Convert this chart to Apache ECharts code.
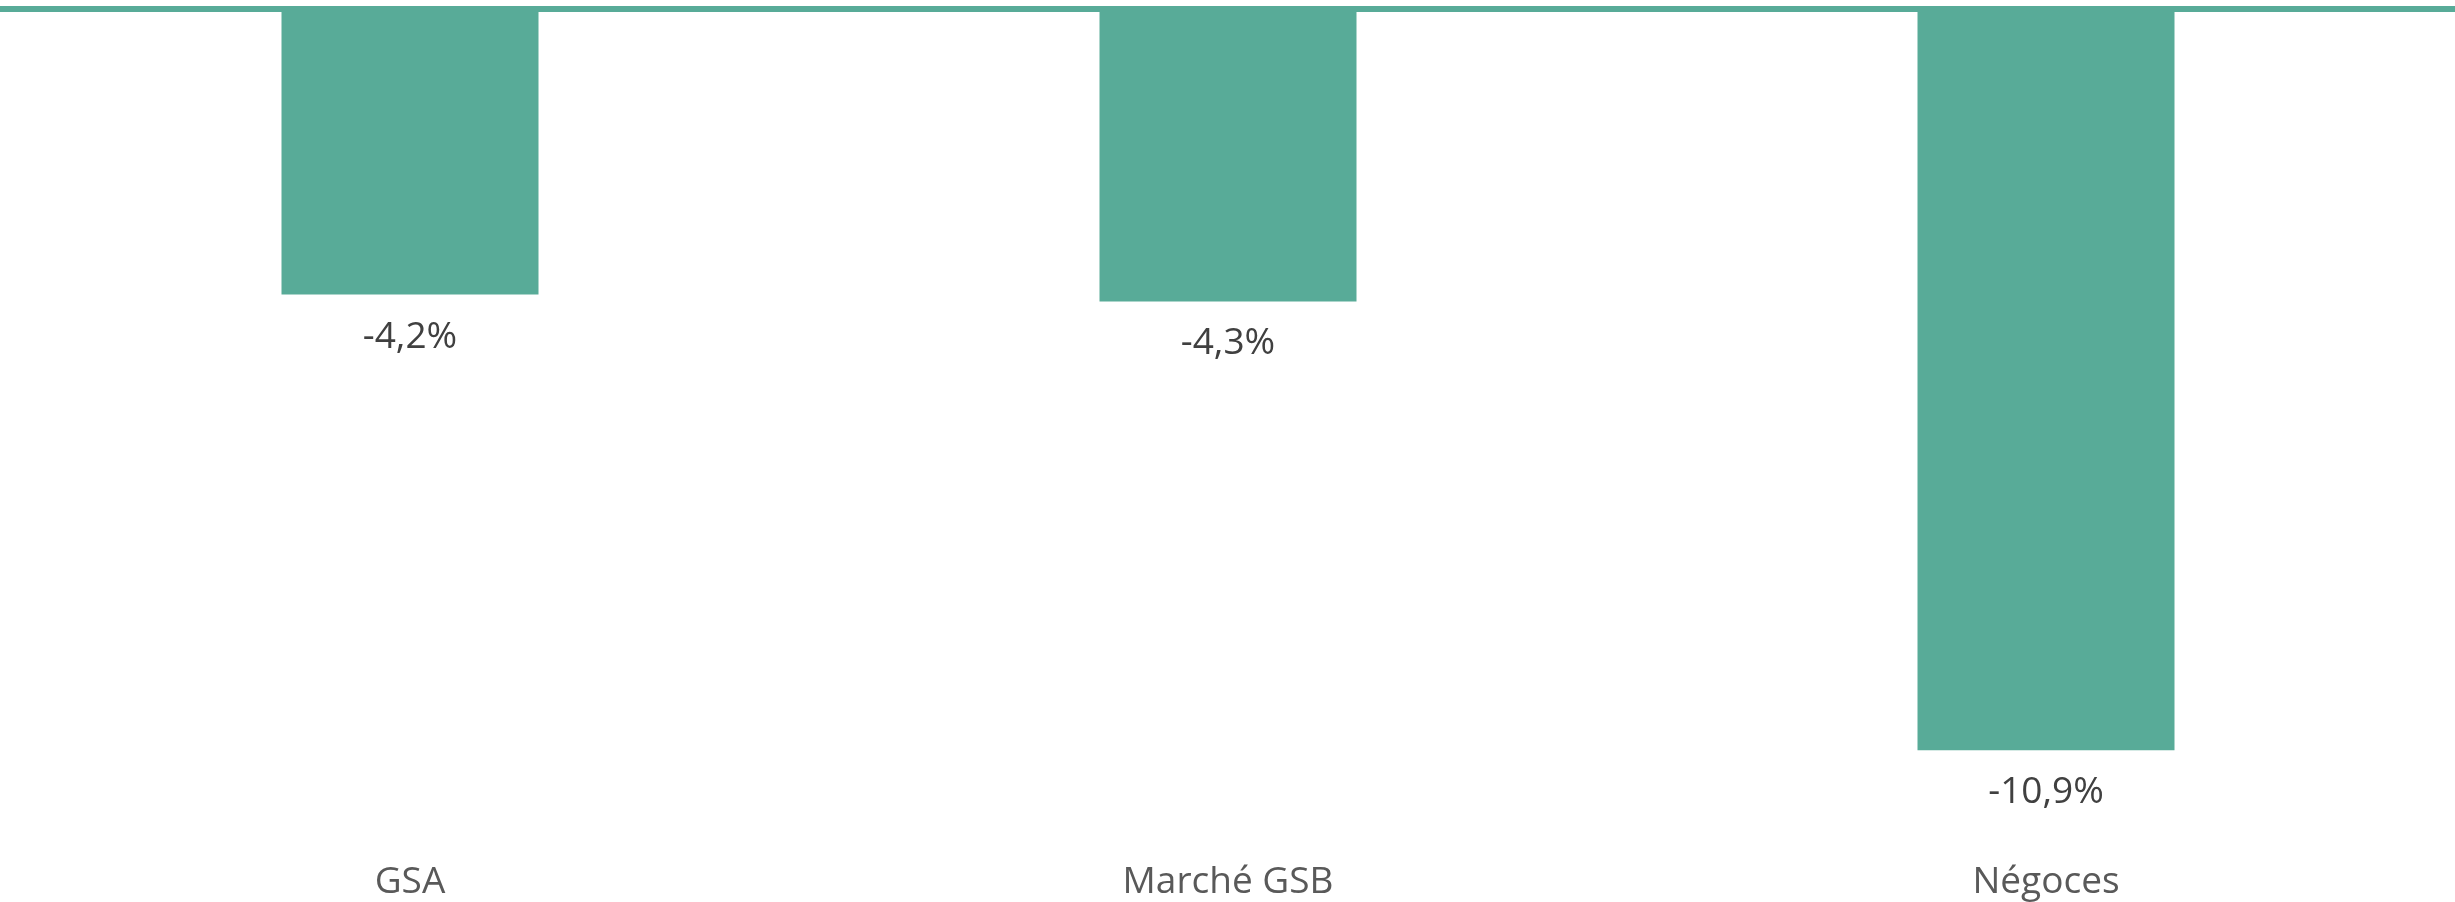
<!DOCTYPE html>
<html>
<head>
<meta charset="utf-8">
<script src="https://cdn.jsdelivr.net/npm/echarts@6/dist/echarts.min.js"></script>
<style>
  html, body { margin: 0; padding: 0; background: #fff; }
  #chart { width: 2455px; height: 902px; }
</style>
</head>
<body>
<div id="chart"></div>
<script>
// catégories et valeurs (%)
var categories = ['GSA', 'Marché GSB', 'Négoces'];
var values = [-4.2, -4.3, -10.9];

var couleur = '#58ab98';

const getOption = () => {
    return {
        animation: false,
        grid: { left: 1, width: 2463, top: 9, bottom: 77 },
        xAxis: [
            {
                type: 'category',
                data: categories,
                position: 'bottom',
                axisLine: { show: false, onZero: false },
                axisTick: { show: false },
                axisLabel: {
                    margin: 39,
                    color: '#595959',
                    fontSize: 37,
                    fontFamily: 'Open Sans'
                }
            },
            {
                // ligne du zéro en haut
                type: 'category',
                data: categories,
                position: 'top',
                axisLine: { show: true, onZero: false, lineStyle: { color: couleur, width: 6 } },
                axisTick: { show: false },
                axisLabel: { show: false }
            }
        ],
        yAxis: {
            type: 'value',
            min: -12,
            max: 0,
            show: false,
            splitLine: { show: false }
        },
        series: [
            {
                type: 'bar',
                xAxisIndex: 0,
                data: values,
                barWidth: 257,
                itemStyle: { color: couleur },
                label: {
                    show: true,
                    position: 'bottom',
                    distance: 24,
                    color: '#404040',
                    fontSize: 37,
                    fontFamily: 'Open Sans',
                    formatter: (p) => p.value.toFixed(1).replace('.', ',') + '%'
                }
            }
        ]
    };
};

var chart = echarts.init(document.getElementById('chart'));
chart.setOption(getOption());
</script>
</body>
</html>
